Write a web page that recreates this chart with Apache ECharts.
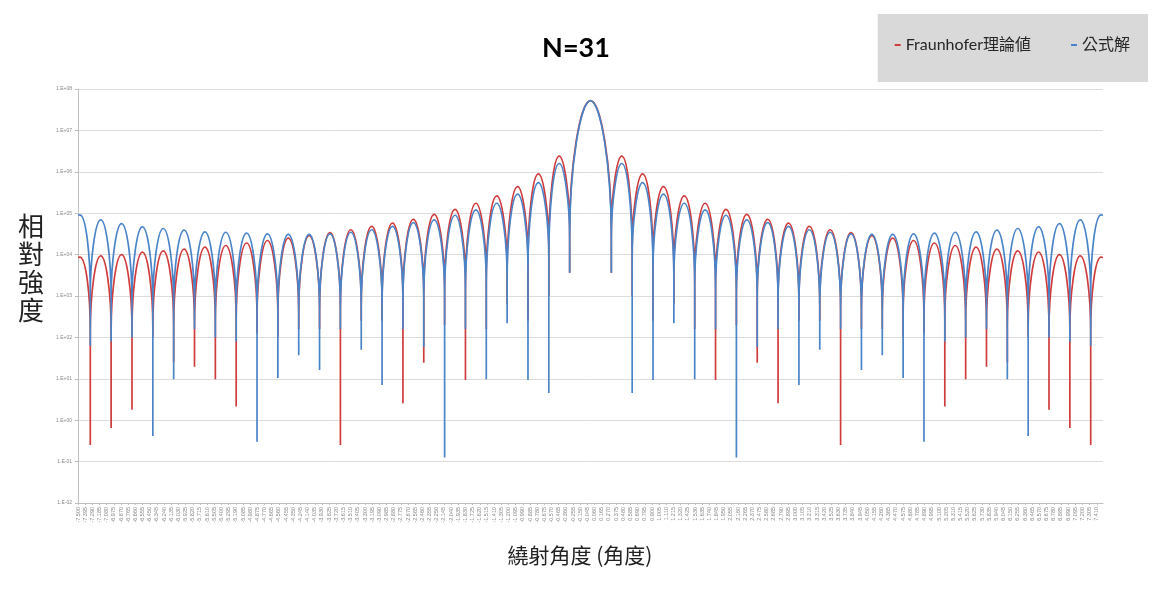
<!DOCTYPE html>
<html>
<head>
<meta charset="utf-8">
<script src="https://cdn.jsdelivr.net/npm/echarts@6/dist/echarts.min.js"></script>
<style>
  html, body { margin: 0; padding: 0; background: #fff; }
  #chart { width: 1152px; height: 599px; }
</style>
</head>
<body>
<div id="chart"></div>
<script>
// --- data (log10 of relative intensity) ---
const seriesNames = ['Fraunhofer理論値', '公式解'];

// centre of each lobe (deg), outer edge lobe .. main lobe .. outer edge lobe
const lobeX = [-7.4725, -7.1675, -6.8625, -6.5575, -6.2525, -5.9475, -5.6425, -5.3375, -5.0325, -4.7275,
  -4.4225, -4.1175, -3.8125, -3.5075, -3.2025, -2.8975, -2.5925, -2.2875, -1.9825, -1.6775,
  -1.3725, -1.0675, -0.7625, -0.4575, 0, 0.4575, 0.7625, 1.0675, 1.3725, 1.6775,
  1.9825, 2.2875, 2.5925, 2.8975, 3.2025, 3.5075, 3.8125, 4.1175, 4.4225, 4.7275,
  5.0325, 5.3375, 5.6425, 5.9475, 6.2525, 6.5575, 6.8625, 7.1675, 7.4725];

// minima between lobes (deg)
const nullX = [-7.320, -7.015, -6.710, -6.405, -6.100, -5.795, -5.490, -5.185, -4.880, -4.575,
  -4.270, -3.965, -3.660, -3.355, -3.050, -2.745, -2.440, -2.135, -1.830, -1.525,
  -1.220, -0.915, -0.610, -0.305, 0.305, 0.610, 0.915, 1.220, 1.525, 1.830,
  2.135, 2.440, 2.745, 3.050, 3.355, 3.660, 3.965, 4.270, 4.575, 4.880,
  5.185, 5.490, 5.795, 6.100, 6.405, 6.710, 7.015, 7.320];

const edgeX = [-7.5, 7.5];

const redPeak = [3.94, 3.97, 4.00, 4.06, 4.09, 4.13, 4.18, 4.22, 4.28, 4.34, 4.40, 4.46, 4.53, 4.60, 4.68,
  4.76, 4.85, 4.97, 5.09, 5.24, 5.42, 5.64, 5.95, 6.38, 7.72, 6.38, 5.95, 5.64, 5.42, 5.24,
  5.09, 4.97, 4.85, 4.76, 4.68, 4.60, 4.53, 4.46, 4.40, 4.34, 4.28, 4.22, 4.18, 4.13, 4.09,
  4.06, 4.00, 3.97, 3.94];
const bluePeak = [4.96, 4.84, 4.75, 4.67, 4.63, 4.59, 4.55, 4.54, 4.52, 4.50, 4.49, 4.49, 4.50, 4.54, 4.60,
  4.68, 4.77, 4.84, 4.95, 5.08, 5.24, 5.46, 5.74, 6.20, 7.72, 6.20, 5.74, 5.46, 5.24, 5.08,
  4.95, 4.84, 4.77, 4.68, 4.60, 4.54, 4.50, 4.49, 4.49, 4.50, 4.52, 4.54, 4.55, 4.59, 4.63,
  4.67, 4.75, 4.84, 4.96];

const redNull = [-0.60, -0.19, 0.25, 2.0, 1.4, 1.29, 0.99, 0.33, 2.1, 2.0, 2.2, 2.2, -0.60, 2.4, 2.4,
  0.41, 1.39, 2.3, 0.97, 2.2, 2.8, 2.4, 3.0, 3.56, 3.56, 3.0, 2.4, 2.8, 2.2, 0.97,
  2.3, 1.39, 0.41, 2.4, 2.4, -0.60, 2.2, 2.2, 2.0, 2.1, 0.33, 0.99, 1.29, 1.4, 2.0,
  0.25, -0.19, -0.60];
const blueNull = [1.8, 1.9, 2.0, -0.38, 0.99, 2.2, 2.0, 1.9, -0.52, 1.02, 1.57, 1.21, 2.2, 1.70, 0.85,
  2.2, 1.77, -0.90, 2.2, 0.99, 2.34, 0.97, 0.66, 3.56, 3.56, 0.66, 0.97, 2.34, 0.99, 2.2,
  -0.90, 1.77, 2.2, 0.85, 1.70, 2.2, 1.21, 1.57, 1.02, -0.52, 1.9, 2.0, 2.2, 0.99, -0.38,
  2.0, 1.9, 1.8];

const redEdge = [3.93, 3.93];
const blueEdge = [4.95, 4.95];

// x tick labels: every 0.105 deg from -7.500
const xTicks = Array.from({ length: 143 }, (_, i) => Math.round((-7.5 + i * 0.105) * 1000) / 1000);

// where neighbouring arches merge into the thin null spike (decades below the lower peak)
const SHOULDER_DROP = 1.8;

function buildLine(peaks, nulls, edge) {
  const pts = [[edgeX[0], Math.pow(10, edge[0])]];
  for (let i = 0; i < lobeX.length; i++) {
    pts.push([lobeX[i], Math.pow(10, peaks[i])]);
    if (i < nullX.length) {
      const s = Math.min(peaks[i], peaks[i + 1]) - SHOULDER_DROP;
      const d = nulls[i];
      if (d < s - 0.05) {
        pts.push([nullX[i], Math.pow(10, s)], [nullX[i], Math.pow(10, d)], [nullX[i], Math.pow(10, s)]);
      } else {
        pts.push([nullX[i], Math.pow(10, d)]);
      }
    }
  }
  pts.push([edgeX[1], Math.pow(10, edge[1])]);
  return pts;
}

const chart = echarts.init(document.getElementById('chart'));

const cjk = '"Noto Sans CJK TC", "Noto Sans CJK JP", sans-serif';

chart.setOption({
  animation: false,
  backgroundColor: '#fff',
  title: {
    text: 'N=31',
    left: 'center',
    top: 30,
    textStyle: { fontSize: 27, fontWeight: 'bold', color: '#000', fontFamily: 'Lato, "Noto Sans", sans-serif' }
  },
  legend: {
    orient: 'horizontal',
    right: 4,
    top: 14,
    backgroundColor: '#d9d9d9',
    padding: [23, 18, 29, 17],
    itemGap: 40,
    itemWidth: 6,
    itemHeight: 2,
    icon: 'rect',
    textStyle: { fontSize: 16, color: '#262626', fontFamily: 'Lato, ' + cjk },
    data: seriesNames
  },
  grid: { left: 78, right: 49, top: 89, bottom: 96 },
  xAxis: {
    type: 'value',
    min: -7.5,
    max: 7.5,
    axisLine: { onZero: false, lineStyle: { color: '#bfbfbf' } },
    axisTick: { customValues: xTicks, length: 2, lineStyle: { color: '#bfbfbf' } },
    axisLabel: {
      customValues: xTicks,
      rotate: 90,
      fontSize: 5.5,
      color: '#888',
      margin: 4,
      formatter: v => v.toFixed(3)
    },
    splitLine: { show: false }
  },
  yAxis: {
    type: 'log',
    logBase: 10,
    min: 0.01,
    max: 1e8,
    interval: 1,
    axisLine: { show: true, onZero: false, lineStyle: { color: '#bfbfbf' } },
    axisTick: { show: true, length: 3, lineStyle: { color: '#bfbfbf' } },
    axisLabel: {
      fontSize: 5,
      color: '#888',
      margin: 6,
      formatter: v => {
        const e = Math.round(Math.log10(v));
        return '1.E' + (e < 0 ? '-' : '+') + String(Math.abs(e)).padStart(2, '0');
      }
    },
    splitLine: { lineStyle: { color: '#dcdcdc' } }
  },
  graphic: [
    {
      type: 'text', x: 31, y: 268,
      style: { text: '相\n對\n強\n度', font: '26px ' + cjk, lineHeight: 28, fill: '#222', align: 'center', verticalAlign: 'middle' }
    },
    {
      type: 'text', x: 580, y: 555,
      style: { text: '繞射角度 (角度)', font: '21px ' + cjk, fill: '#222', align: 'center', verticalAlign: 'middle' }
    }
  ],
  series: [
    {
      name: seriesNames[0],
      type: 'line',
      data: buildLine(redPeak, redNull, redEdge),
      smooth: 0.5,
      symbol: 'none',
      lineStyle: { width: 1.7, color: '#d03c3c' },
      itemStyle: { color: '#d03c3c' }
    },
    {
      name: seriesNames[1],
      type: 'line',
      data: buildLine(bluePeak, blueNull, blueEdge),
      smooth: 0.5,
      symbol: 'none',
      lineStyle: { width: 1.7, color: '#4a84c8' },
      itemStyle: { color: '#4a84c8' }
    }
  ]
});
</script>
</body>
</html>
